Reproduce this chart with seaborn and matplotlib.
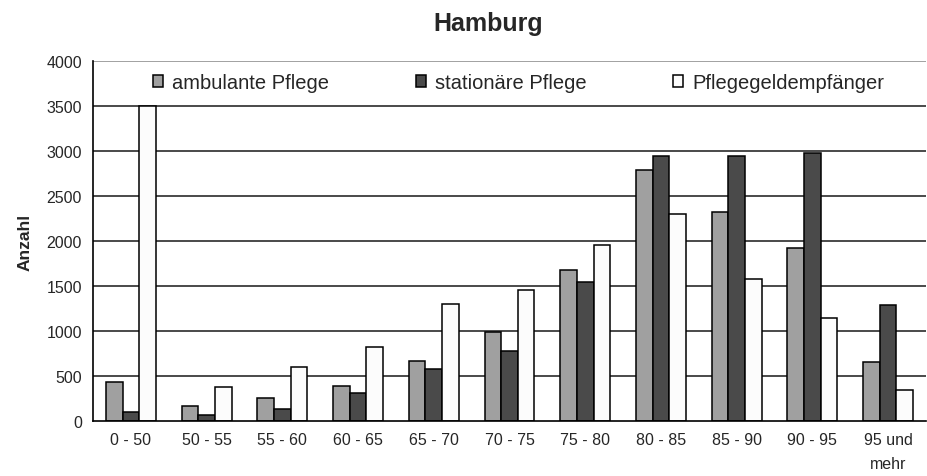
import pandas as pd
import numpy as np
import seaborn as sns
import matplotlib.pyplot as plt

altersgruppen = ["0 - 50", "50 - 55", "55 - 60", "60 - 65", "65 - 70", "70 - 75",
                 "75 - 80", "80 - 85", "85 - 90", "90 - 95", "95 und\nmehr"]
ambulant = [433, 167, 256, 389, 667, 990, 1678, 2790, 2322, 1922, 656]
stationaer = [100, 67, 133, 311, 578, 778, 1544, 2944, 2944, 2978, 1289]
pflegegeld = [3500, 378, 600, 822, 1300, 1456, 1956, 2300, 1578, 1144, 344]
serien = ["ambulante Pflege", "stationäre Pflege", "Pflegegeldempfänger"]
farben = ["#a0a0a0", "#4a4a4a", "#fcfcfc"]

df = pd.DataFrame({
    "Alter": altersgruppen * 3,
    "Art": [serien[0]] * 11 + [serien[1]] * 11 + [serien[2]] * 11,
    "Anzahl": ambulant + stationaer + pflegegeld,
})

sns.set_style("white")
plt.rcParams['font.family'] = ['Liberation Sans', 'DejaVu Sans']

fig = plt.figure(figsize=(9.27, 4.77), dpi=100)
ax = fig.add_axes([93 / 927, 1 - 422 / 477, 833 / 927, 360 / 477])

for y in range(500, 4001, 500):
    ax.axhline(y, color="#9a9a9a" if y == 4000 else "#3c3c3c", lw=1.3, zorder=0)

sns.barplot(data=df, x="Alter", y="Anzahl", hue="Art", palette=farben,
            width=0.66, gap=0, edgecolor="black", linewidth=1.1,
            ax=ax, zorder=2)

ax.set_ylim(0, 4000)
ax.set_xlim(-0.5, 10.5)
ax.set_yticks(range(0, 4001, 500))
ax.tick_params(axis="y", labelsize=11.5, length=5, direction="out", width=1, color="black", pad=3)
ax.set_xticks(np.arange(-0.5, 11, 1), minor=True)
ax.tick_params(axis="x", which="major", length=0, labelsize=11.5, pad=8)
ax.tick_params(axis="x", which="minor", length=5, direction="out", width=1, color="black")
for lbl in ax.get_xticklabels():
    lbl.set_linespacing(1.7)
ax.set_xlabel("")
ax.set_ylabel("Anzahl", fontsize=12.5, fontweight="bold", labelpad=10)
for s in ["top", "right"]:
    ax.spines[s].set_visible(False)
ax.spines["left"].set_color("black")
ax.spines["bottom"].set_color("black")
ax.spines["left"].set_linewidth(1.2)
ax.spines["bottom"].set_linewidth(1.2)

leg = ax.legend(loc="upper left", bbox_to_anchor=(0.055, 1.005), ncol=3, frameon=False,
                fontsize=14.5, handlelength=0.5, handleheight=0.5, handletextpad=0.45,
                columnspacing=4.3, borderaxespad=0.3)

fig.suptitle("Hamburg", fontsize=18, fontweight="bold", x=0.527, y=0.975)

plt.savefig("out.png", dpi=100)
